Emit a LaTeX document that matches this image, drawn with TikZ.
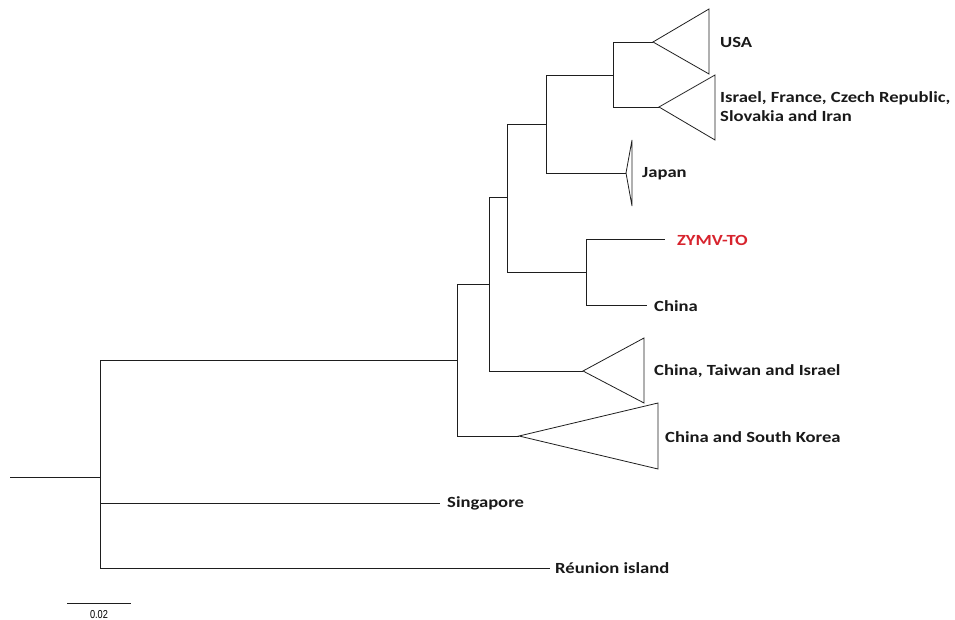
\documentclass[tikz,border=0pt]{standalone}
\usepackage{fontspec}
\newfontfamily\labfont[FakeStretch=1.2]{Carlito}
\newfontfamily\scalefont[FakeStretch=0.8]{Liberation Sans}
\definecolor{zred}{RGB}{215,35,45}
\definecolor{treeline}{RGB}{30,30,30}
\begin{document}
\begin{tikzpicture}[x=1pt,y=-1pt,
  br/.style={draw=treeline,line width=0.9pt},
  clade/.style={draw=treeline,line width=0.8pt,line join=miter},
  lab/.style={font=\labfont\bfseries\fontsize{15.5}{19}\selectfont,text=black!90,inner sep=0pt,anchor=west,align=left}]
\useasboundingbox (0,0) rectangle (955,620);
% internal nodes
\coordinate (r0) at (10,477);
\coordinate (n0) at (100,477);
\coordinate (n1) at (457,360);
\coordinate (n2) at (489,284);
\coordinate (n3) at (507,197);
\coordinate (n4) at (546,124);
\coordinate (n5) at (613,75);
\coordinate (n6) at (586,272);
% clade apices
\coordinate (tK) at (519,436);
\coordinate (tT) at (583,371);
\coordinate (tJ) at (626,173);
\coordinate (tU) at (653,42);
\coordinate (tI) at (659,107);
% leaf ends
\coordinate (eS) at (440,503);
\coordinate (eR) at (550,568);
\coordinate (eZ) at (665,239);
\coordinate (eC) at (647,305);
% branches
\draw[br] (r0) -- (n0);
\draw[br] (n0) |- (n1);
\draw[br] (n0) |- (eS);
\draw[br] (n0) |- (eR);
\draw[br] (n1) |- (n2);
\draw[br] (n1) |- (tK);
\draw[br] (n2) |- (n3);
\draw[br] (n2) |- (tT);
\draw[br] (n3) |- (n4);
\draw[br] (n3) |- (n6);
\draw[br] (n4) |- (n5);
\draw[br] (n4) |- (tJ);
\draw[br] (n5) |- (tU);
\draw[br] (n5) |- (tI);
\draw[br] (n6) |- (eZ);
\draw[br] (n6) |- (eC);
% collapsed clades
\draw[clade] (tK) -- (658,403) -- (658,469) -- cycle;
\draw[clade] (tT) -- (644,338) -- (644,403) -- cycle;
\draw[clade] (tJ) -- (632,140) -- (632,206) -- cycle;
\draw[clade] (tU) -- (709,9) -- (709,74) -- cycle;
\draw[clade] (tI) -- (715,75) -- (715,140) -- cycle;
% labels
\node[lab] (lU) at (720,42) {USA};
\node[lab] (lI) at (720,107) {Israel, France, Czech Republic,\\Slovakia and Iran};
\node[lab] (lJ) at (642,174) {Japan};
\node[lab,text=zred] (lZ) at (677,240) {ZYMV-TO};
\node[lab] (lC) at (654,306) {China};
\node[lab] (lT) at (654,371) {China, Taiwan and Israel};
\node[lab] (lK) at (665,437) {China and South Korea};
\node[lab] (lS) at (447,503) {Singapore};
\node[lab] (lR) at (555,568) {R\'eunion island};
% scale bar
\coordinate (sb1) at (67,603);
\coordinate (sb2) at (131,603);
\draw[br] (sb1) -- (sb2);
\node[font=\scalefont\fontsize{11.5}{13}\selectfont,inner sep=0pt] (sbl) at (99,615) {0.02};
\end{tikzpicture}
\end{document}
